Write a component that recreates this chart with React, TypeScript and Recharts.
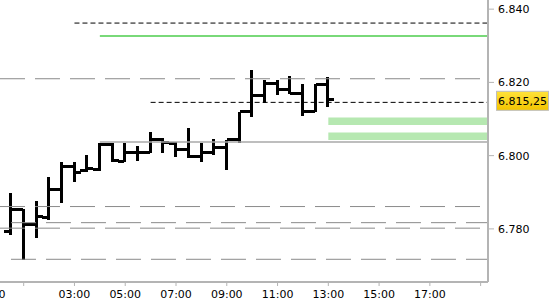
import { Bar, ComposedChart, Customized, ReferenceArea, ReferenceLine, XAxis, YAxis } from "recharts";

// 30-minute OHLC bars, time in hours
const hours = [0.5, 1, 1.5, 2, 2.5, 3, 3.5, 4, 4.5, 5, 5.5, 6, 6.5, 7, 7.5, 8, 8.5, 9, 9.5, 10, 10.5, 11, 11.5, 12, 12.5, 13];
const opens = [6779.3, 6785.2, 6781.1, 6783.2, 6790.7, 6797.0, 6796.0, 6796.3, 6803.1, 6798.4, 6800.8, 6800.8, 6804.5, 6803.4, 6801.6, 6799.7, 6800.8, 6802.3, 6804.3, 6812.0, 6816.5, 6819.7, 6818.1, 6817.0, 6812.0, 6819.5];
const highs = [6789.8, 6785.4, 6787.7, 6794.1, 6798.2, 6798.2, 6800.1, 6803.4, 6803.4, 6803.5, 6802.5, 6806.4, 6804.7, 6803.8, 6807.5, 6803.4, 6804.5, 6804.3, 6812.0, 6823.5, 6820.6, 6820.6, 6821.7, 6819.7, 6819.7, 6821.5];
const lows = [6778.2, 6771.4, 6777.5, 6782.5, 6787.2, 6792.9, 6795.5, 6795.9, 6798.4, 6798.4, 6798.6, 6800.8, 6800.7, 6799.6, 6799.3, 6798.4, 6800.2, 6796.1, 6803.5, 6810.5, 6814.4, 6816.5, 6816.8, 6810.8, 6812.0, 6813.2];
const closes = [6785.4, 6781.1, 6783.4, 6790.7, 6797.0, 6795.4, 6796.6, 6803.1, 6798.6, 6800.8, 6800.8, 6804.5, 6803.5, 6801.6, 6799.7, 6800.8, 6802.3, 6804.3, 6812.0, 6816.5, 6819.7, 6818.1, 6817.0, 6812.0, 6819.5, 6815.25];

const xTicks = [1, 3, 5, 7, 9, 11, 13, 15, 17, 19];
const yTicks = [6780, 6800, 6820, 6840];
const X_MIN = 0.067;
const X_MAX = 19.29;
const Y_MIN = 6765.5;
const Y_MAX = 6842.5;

// horizontal levels: [start hour, price]
const shortDashLevels: [number, number][] = [[3, 6836.2], [6, 6814.55]];
const greenLevel: [number, number] = [4, 6832.7];
const greySolidLevel: [number, number] = [4, 6803.7];
const longDashLevels: [number, number][] = [[X_MIN, 6821.0], [X_MIN, 6786.1], [X_MIN, 6780.2], [0.5, 6781.7], [0.5, 6771.7]];
const zoneStart = 13;
const zones: [number, number][] = [[6808.4, 6810.4], [6804.3, 6806.3]];
const lastPrice = closes[closes.length - 1];

const data = hours.map((t, i) => ({ t, open: opens[i], high: highs[i], low: lows[i], close: closes[i] }));

const FONT = "'DejaVu Sans', sans-serif";

const fmtTick = (v: number) => `${Math.floor(v / 1000)}.${String(Math.round(v % 1000)).padStart(3, "0")}`;
const fmtPrice = (v: number) => {
  const [int, dec] = v.toFixed(2).split(".");
  return `${int.slice(0, -3)}.${int.slice(-3)},${dec}`;
};

function OhlcShape(props: any) {
  const { x, y, width, height, payload } = props;
  if (x == null || y == null || !payload) return <g />;
  const cx = x + width / 2;
  const top = Math.min(y, y + height);
  const bottom = Math.max(y, y + height);
  const span = payload.high - payload.low || 1;
  const py = (v: number) => top + ((payload.high - v) / span) * (bottom - top);
  const yo = py(payload.open);
  const yc = py(payload.close);
  return (
    <g fill="#000" shapeRendering="crispEdges">
      <rect x={cx - 1.5} y={top} width={3} height={bottom - top} />
      <rect x={cx - 6.5} y={yo - 1.5} width={6} height={3} />
      <rect x={cx + 0.5} y={yc - 1.5} width={6} height={3} />
    </g>
  );
}

function TimeTick({ x, y, payload }: any) {
  const v = payload?.value;
  if (v < 3 || v > 17) return <g />;
  return (
    <text x={x} y={y} dy="0.71em" textAnchor="middle" fill="#000" fontSize={11} fontFamily={FONT}>
      {`${String(v).padStart(2, "0")}:00`}
    </text>
  );
}

function PriceTag(props: any) {
  const vb = props.viewBox || {};
  const right = (vb.x ?? 0) + (vb.width ?? 488);
  const cy = vb.y ?? 100;
  return (
    <g>
      <defs>
        <linearGradient id="tagFill" x1="0" y1="0" x2="0" y2="1">
          <stop offset="0%" stopColor="#ffe23a" />
          <stop offset="100%" stopColor="#f3c500" />
        </linearGradient>
      </defs>
      <rect x={right + 8.5} y={cy - 8.5} width={52} height={19} fill="url(#tagFill)" stroke="#bdbdbd" />
      <text x={right + 10} y={cy + 1} dy="0.355em" fill="#000" fontSize={11} fontFamily={FONT}>
        {fmtPrice(lastPrice)}
      </text>
    </g>
  );
}

export default function App() {
  return (
    <div style={{ position: "absolute", left: 0, top: 0, width: 550, height: 300, background: "#fff" }}>
      <ComposedChart width={550} height={300} data={data} margin={{ top: 0, right: 0, bottom: 0, left: 0 }}>
        <XAxis
          dataKey="t"
          type="number"
          domain={[X_MIN, X_MAX]}
          allowDataOverflow
          ticks={xTicks}
          interval={0}
          height={18}
          tickSize={4}
          tickMargin={4}
          tick={<TimeTick />}
          tickLine={{ stroke: "#b4b4b4" }}
          axisLine={{ stroke: "#b4b4b4", strokeWidth: 2 }}
        />
        <YAxis
          orientation="right"
          type="number"
          domain={[Y_MIN, Y_MAX]}
          allowDataOverflow
          ticks={yTicks}
          interval={0}
          width={62}
          tickSize={6}
          tickMargin={4}
          tickFormatter={fmtTick}
          tick={{ fill: "#000", fontSize: 11, fontFamily: FONT }}
          tickLine={{ stroke: "#b4b4b4" }}
          axisLine={{ stroke: "#b4b4b4", strokeWidth: 2 }}
        />
        {zones.map(([lo, hi], i) => (
          <ReferenceArea key={`z${i}`} x1={zoneStart} x2={X_MAX} y1={lo} y2={hi} fill="#b6e8b1" fillOpacity={1} stroke="none" />
        ))}
        {longDashLevels.map(([x0, p], i) => (
          <ReferenceLine key={`ld${i}`} segment={[{ x: x0, y: p }, { x: X_MAX, y: p }]} stroke="#8a8a8a" strokeWidth={1} strokeDasharray="25 10" />
        ))}
        <ReferenceLine segment={[{ x: greySolidLevel[0], y: greySolidLevel[1] }, { x: X_MAX, y: greySolidLevel[1] }]} stroke="#a8a8a8" strokeWidth={1.5} />
        <ReferenceLine segment={[{ x: greenLevel[0], y: greenLevel[1] }, { x: X_MAX, y: greenLevel[1] }]} stroke="#4ccc4c" strokeWidth={1.5} />
        {shortDashLevels.map(([x0, p], i) => (
          <ReferenceLine key={`sd${i}`} segment={[{ x: x0, y: p }, { x: X_MAX, y: p }]} stroke="#000" strokeWidth={1} strokeDasharray="5 3" />
        ))}
        <ReferenceLine y={lastPrice} stroke="none" label={(p: any) => <PriceTag {...p} />} />
        <Bar dataKey={(d: any) => [d.low, d.high]} barSize={8} shape={<OhlcShape />} isAnimationActive={false} />
        <Customized
          component={() => (
            <text x={5.5} y={290} dy="0.71em" textAnchor="end" fill="#000" fontSize={11} fontFamily={FONT}>
              00:00
            </text>
          )}
        />
      </ComposedChart>
    </div>
  );
}
